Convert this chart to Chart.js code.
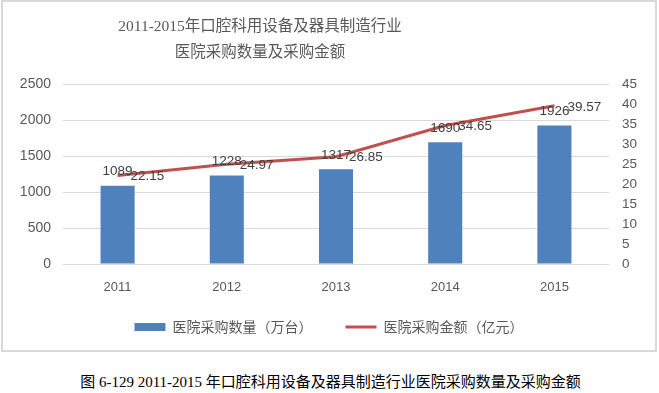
<!DOCTYPE html>
<html>
<head>
<meta charset="utf-8">
<script src="https://cdn.jsdelivr.net/npm/chart.js@4"></script>
<style>
  html, body { margin: 0; padding: 0; background: #fff; }
  body { width: 659px; height: 393px; position: relative; overflow: hidden; }
  #box { position: absolute; left: 1px; top: 0px; width: 656px; height: 352px; box-sizing: border-box; border: 2px solid #d9d9d9; }
  #wrap { position: absolute; left: 0; top: 0; width: 652px; height: 348px; }
  #caption { position: absolute; left: 0; top: 372px; width: 661px; text-align: center; font-family: "Liberation Serif", "Noto Sans CJK SC", serif; font-size: 15px; color: #000; line-height: 20px; white-space: nowrap; }
</style>
</head>
<body>
<div id="box"><div id="wrap"><canvas id="c" width="652" height="348"></canvas></div></div>
<div id="caption">图 6-129 2011-2015 年口腔科用设备及器具制造行业医院采购数量及采购金额</div>
<script>
const categories = ['2011', '2012', '2013', '2014', '2015'];
const quantityValues = [1089, 1228, 1317, 1690, 1926];
const amountValues = [22.15, 24.97, 26.85, 34.65, 39.57];
const titleLines = ['2011-2015年口腔科用设备及器具制造行业', '医院采购数量及采购金额'];
const seriesNames = ['医院采购数量（万台）', '医院采购金额（亿元）'];

const labelPlugin = {
  id: 'dataLabels',
  afterLayout(chart) {
    // the reference title is centred left of the canvas centre
    const t = chart.titleBlock;
    if (t) { t.left = 0; t.right = 514; }
  },
  afterDatasetsDraw(chart) {
    const ctx = chart.ctx;
    ctx.save();
    ctx.font = '13.5px "Liberation Sans", Arial, sans-serif';
    ctx.fillStyle = '#404040';
    const barMeta = chart.getDatasetMeta(0);
    ctx.textAlign = 'center';
    ctx.textBaseline = 'middle';
    barMeta.data.forEach((el, i) => {
      ctx.fillText(String(chart.data.datasets[0].data[i]), el.x, el.y - 14);
    });
    const lineMeta = chart.getDatasetMeta(1);
    ctx.textAlign = 'left';
    lineMeta.data.forEach((el, i) => {
      ctx.fillText(chart.data.datasets[1].data[i].toFixed(2), el.x + 13, el.y + 1);
    });
    ctx.restore();
  }
};

new Chart(document.getElementById('c'), {
  type: 'bar',
  data: {
    labels: categories,
    datasets: [
      {
        type: 'bar',
        label: seriesNames[0],
        data: quantityValues,
        backgroundColor: '#4F81BD',
        borderWidth: 0,
        categoryPercentage: 1,
        barPercentage: 0.312,
        yAxisID: 'y',
        pointStyle: 'rect'
      },
      {
        type: 'line',
        label: seriesNames[1],
        data: amountValues,
        borderColor: '#C0504D',
        backgroundColor: '#C0504D',
        borderWidth: 3,
        pointRadius: 0,
        pointHoverRadius: 0,
        tension: 0,
        fill: false,
        yAxisID: 'y1',
        pointStyle: 'line'
      }
    ]
  },
  options: {
    responsive: false,
    animation: false,
    devicePixelRatio: 1,
    layout: { padding: { top: 0, bottom: 6, left: 0, right: 0 } },
    plugins: {
      tooltip: { enabled: false },
      title: {
        display: true,
        text: titleLines,
        color: '#595959',
        font: { family: '"Liberation Serif", "Noto Sans CJK SC", serif', size: 15.5, weight: 'normal', lineHeight: 1.68 },
        padding: { top: 12, bottom: 18 }
      },
      legend: {
        position: 'bottom',
        labels: {
          usePointStyle: true,
          pointStyleWidth: 31,
          boxHeight: 8,
          color: '#595959',
          font: { family: '"Noto Sans CJK SC", sans-serif', size: 14 },
          padding: 33
        }
      }
    },
    scales: {
      x: {
        grid: { display: false, drawTicks: false },
        border: { display: false },
        ticks: { color: '#595959', font: { family: '"Liberation Sans", Arial, sans-serif', size: 13 }, padding: 16 },
        afterFit(scale) { scale.height = 23; },
        afterUpdate(scale) { scale._computeLabelArea = () => undefined; }
      },
      y: {
        position: 'left',
        min: 0, max: 2500,
        ticks: { stepSize: 500, autoSkip: false, color: '#595959', font: { family: '"Liberation Sans", Arial, sans-serif', size: 14 }, padding: 12, callback: (v) => String(v) },
        grid: { color: '#d9d9d9', lineWidth: 1, drawTicks: false },
        border: { display: false },
        afterFit(scale) { scale.width = 60; }
      },
      y1: {
        position: 'right',
        min: 0, max: 45,
        ticks: { stepSize: 5, autoSkip: false, color: '#595959', font: { family: '"Liberation Sans", Arial, sans-serif', size: 13.5 }, padding: 13, callback: (v) => String(v) },
        grid: { display: false, drawTicks: false },
        border: { display: false },
        afterFit(scale) { scale.width = 46; }
      }
    }
  },
  plugins: [labelPlugin]
});
</script>
</body>
</html>
